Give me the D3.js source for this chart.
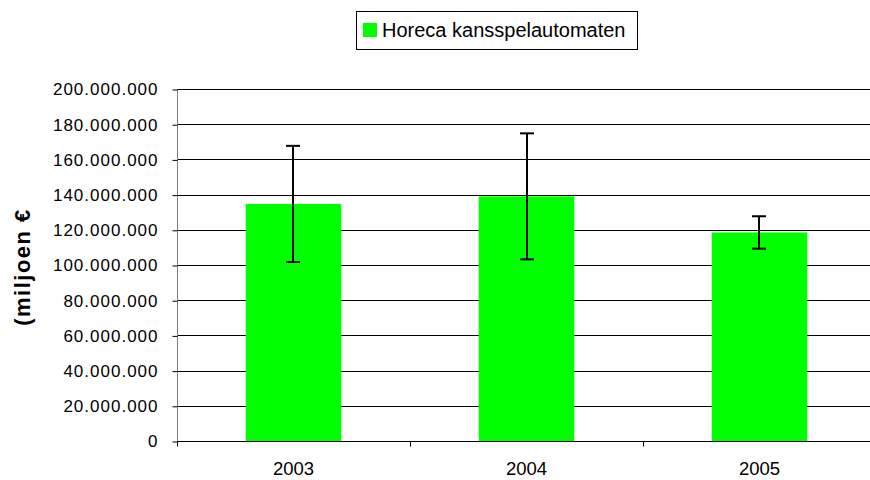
<!DOCTYPE html>
<html>
<head>
<meta charset="utf-8">
<script src="https://cdn.jsdelivr.net/npm/d3@7"></script>
<style>
  html, body { margin: 0; padding: 0; background: #fff; }
  svg { display: block; font-family: "Liberation Sans", Arial, sans-serif; }
</style>
</head>
<body>
<svg id="chart" width="870" height="480"></svg>
<script>
// Yearly revenue of horeca gaming machines, with error margins
const years = ["2003", "2004", "2005"];
const values = [134700000, 139000000, 118500000];
const errors = [33000000, 35800000, 9200000];
const yTicks = [0, 20000000, 40000000, 60000000, 80000000, 100000000,
                120000000, 140000000, 160000000, 180000000, 200000000];
const seriesName = "Horeca kansspelautomaten";
const yTitle = "(miljoen €";

(function () {
const svg = d3.select("#chart");
const pLeft = 177, pRight = 876, pTop = 89, pBottom = 441;

const x = d3.scaleBand().domain(years).range([pLeft, pRight]).paddingInner(0.59).paddingOuter(0.295);
const xOuter = d3.scaleBand().domain(years).range([pLeft, pRight]);
const y = d3.scaleLinear().domain([0, 200000000]).range([pBottom, pTop]);

const fmt = v => d3.format(",")(v).replace(/,/g, ".");

// horizontal gridlines
svg.append("g").selectAll("line").data(yTicks.filter(d => d > 0)).join("line")
  .attr("x1", pLeft).attr("x2", pRight)
  .attr("y1", d => Math.round(y(d)) + 0.5).attr("y2", d => Math.round(y(d)) + 0.5)
  .attr("stroke", "#000").attr("stroke-width", 1);

// y axis
const yAxis = svg.append("g").attr("transform", `translate(${pLeft + 0.5},0.5)`)
  .call(d3.axisLeft(y).tickValues(yTicks).tickFormat(fmt).tickSize(5).tickPadding(14));
yAxis.select(".domain").attr("stroke", "#808080").attr("d", `M0,${pTop}V${pBottom}`);
yAxis.selectAll(".tick line").attr("stroke", "#000");
yAxis.selectAll(".tick text")
  .attr("font-size", 17).attr("letter-spacing", "1px").attr("fill", "#000")
  .attr("font-family", "Liberation Sans, Arial, sans-serif");

// bars
svg.append("g").selectAll("rect").data(years).join("rect")
  .attr("x", d => x(d)).attr("width", x.bandwidth())
  .attr("y", (d, i) => y(values[i])).attr("height", (d, i) => y(0) - y(values[i]))
  .attr("fill", "#00ff00");

// x axis with category separators
const xAxisG = svg.append("g").attr("transform", `translate(0,${pBottom + 0.5})`);
xAxisG.append("line").attr("x1", pLeft).attr("x2", pRight).attr("stroke", "#000");
const bounds = years.map(d => xOuter(d)).concat([pRight]);
xAxisG.selectAll("line.sep").data(bounds).join("line").attr("class", "sep")
  .attr("x1", d => Math.round(d) + 0.5).attr("x2", d => Math.round(d) + 0.5)
  .attr("y1", 0).attr("y2", 5).attr("stroke", "#000");
xAxisG.selectAll("text").data(years).join("text")
  .attr("x", d => xOuter(d) + xOuter.bandwidth() / 2).attr("y", 33)
  .attr("text-anchor", "middle").attr("font-size", 18.5).attr("fill", "#000")
  .text(d => d);

// error bars
const eb = svg.append("g").attr("stroke", "#000").attr("stroke-width", 2);
years.forEach((d, i) => {
  const cx = Math.round(x(d) + x.bandwidth() / 2);
  const hi = y(values[i] + errors[i]), lo = y(values[i] - errors[i]);
  eb.append("line").attr("x1", cx).attr("x2", cx).attr("y1", hi).attr("y2", lo);
  eb.append("line").attr("x1", cx - 7).attr("x2", cx + 7).attr("y1", hi).attr("y2", hi);
  eb.append("line").attr("x1", cx - 7).attr("x2", cx + 7).attr("y1", lo).attr("y2", lo);
});

// y axis title
svg.append("text")
  .attr("transform", "translate(30,267) rotate(-90)")
  .attr("text-anchor", "middle").attr("font-size", 22).attr("font-weight", "bold")
  .attr("letter-spacing", "1.5px").attr("fill", "#000")
  .text(yTitle);

// legend
const lg = svg.append("g");
lg.append("rect").attr("x", 356.5).attr("y", 11.5).attr("width", 281).attr("height", 38)
  .attr("fill", "#fff").attr("stroke", "#000").attr("stroke-width", 1);
lg.append("rect").attr("x", 363).attr("y", 23).attr("width", 14).attr("height", 14).attr("fill", "#00ff00");
lg.append("text").attr("x", 382).attr("y", 37).attr("font-size", 20).attr("fill", "#000").text(seriesName);
})();
</script>
</body>
</html>
